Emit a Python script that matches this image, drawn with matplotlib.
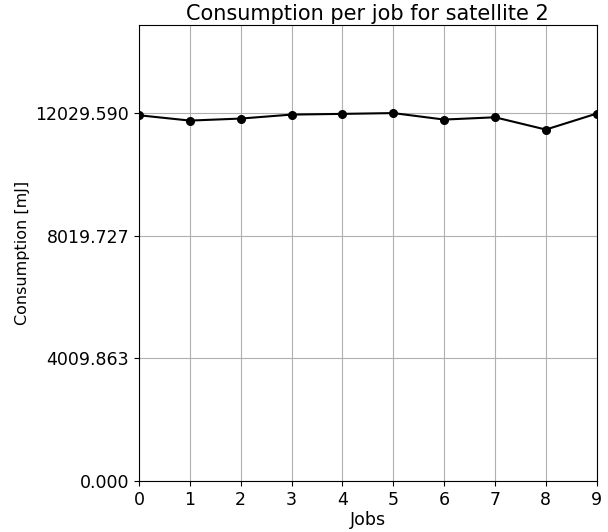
import numpy as np
import matplotlib
matplotlib.use("Agg")
import matplotlib.pyplot as plt

# energy used by each job on satellite 2, in mJ
jobs = [0, 1, 2, 3, 4, 5, 6, 7, 8, 9]
consumption = [11958, 11784, 11850, 11980, 12003, 12029.59, 11817, 11892, 11490, 12013]

top = max(consumption)
yticks = np.linspace(0, top, 4)

fig = plt.figure(figsize=(6.08, 5.32), dpi=100)
ax = fig.add_axes([0.2286, 0.0962, 0.7528, 0.8562])
ax.plot(jobs, consumption, color='black', marker='o', markersize=5.5, linewidth=1.5)
ax.set_xlim(0, 9)
ax.set_ylim(0, 14900)
ax.set_xticks(jobs)
ax.set_yticks(yticks)
ax.set_yticklabels(['%.3f' % v for v in yticks])
ax.tick_params(labelsize=12.5)
ax.set_xlabel('Jobs', fontsize=12.5, labelpad=2)
ax.set_ylabel('Consumption [mJ]', fontsize=11.5)
ax.set_title('Consumption per job for satellite 2', fontsize=15, pad=4)
ax.grid(True)
fig.savefig('out.png', dpi=100)
